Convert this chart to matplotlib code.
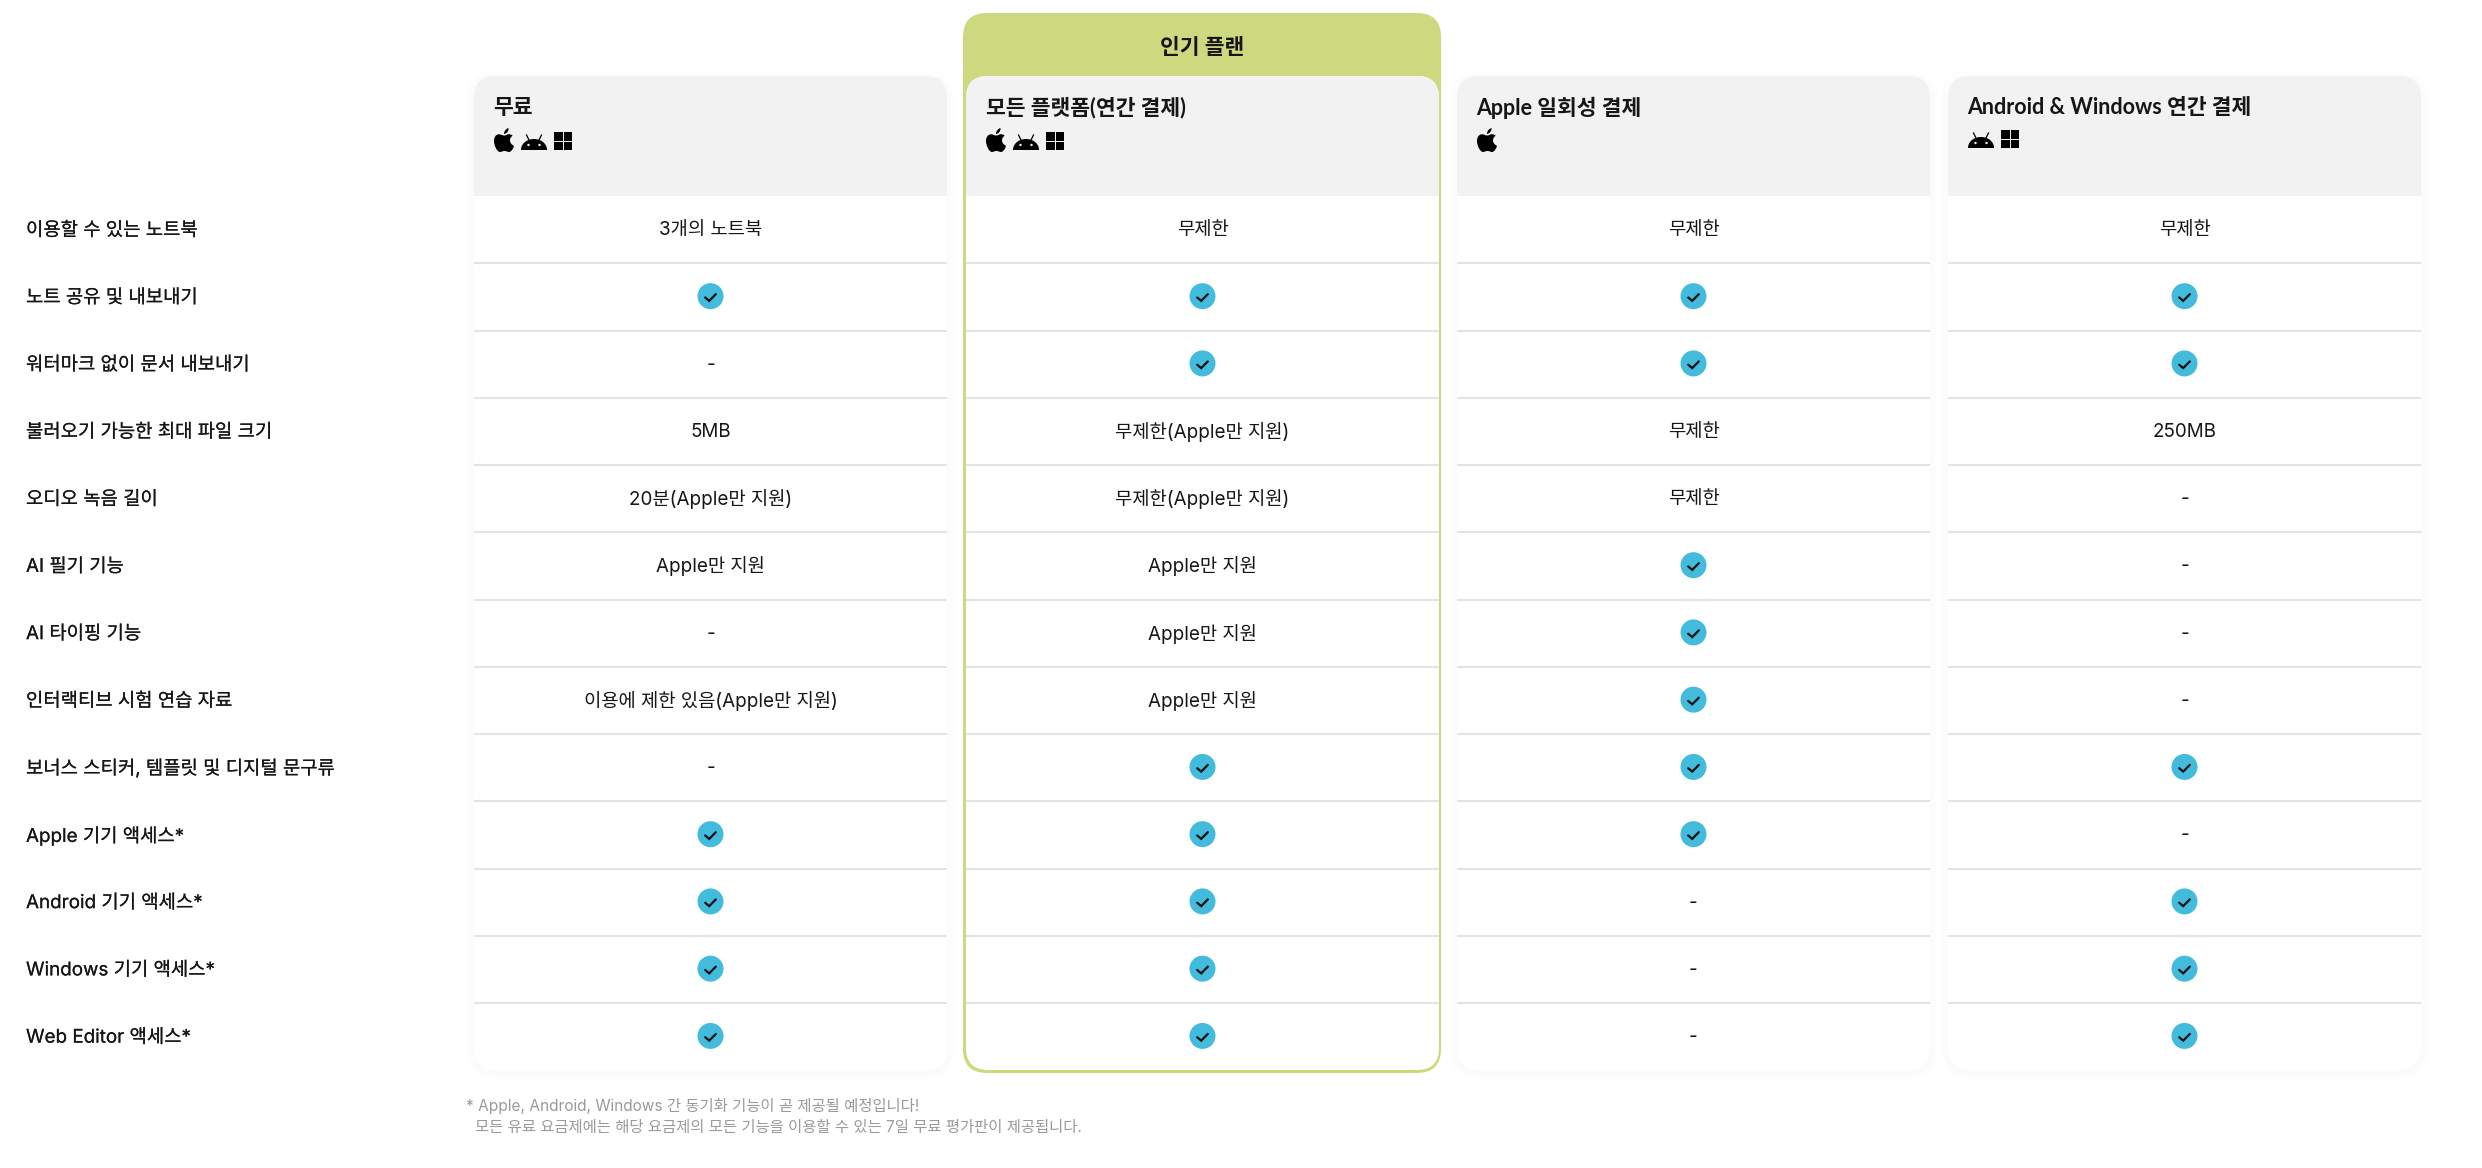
import matplotlib
matplotlib.use('Agg')
from matplotlib import pyplot as plt
from matplotlib import patheffects as pe
from matplotlib.patches import FancyBboxPatch, Rectangle, Circle, PathPatch
from matplotlib.path import Path

REGULAR = ['Inter', 'Noto Sans CJK KR', 'DejaVu Sans']
HEADING = ['Lato', 'Noto Sans CJK KR', 'DejaVu Sans']

CHECK = 'check'
DASH = '-'

features = ['이용할 수 있는 노트북', '노트 공유 및 내보내기', '워터마크 없이 문서 내보내기', '불러오기 가능한 최대 파일 크기',
            '오디오 녹음 길이', 'AI 필기 기능', 'AI 타이핑 기능', '인터랙티브 시험 연습 자료',
            '보너스 스티커, 템플릿 및 디지털 문구류', 'Apple 기기 액세스*', 'Android 기기 액세스*',
            'Windows 기기 액세스*', 'Web Editor 액세스*']

plans = ['무료', '모든 플랫폼(연간 결제)', 'Apple 일회성 결제', 'Android & Windows 연간 결제']
plan_icons = [['apple', 'android', 'windows'], ['apple', 'android', 'windows'], ['apple'], ['android', 'windows']]

free = ['3개의 노트북', CHECK, DASH, '5MB', '20분(Apple만 지원)', 'Apple만 지원', DASH,
        '이용에 제한 있음(Apple만 지원)', DASH, CHECK, CHECK, CHECK, CHECK]
all_platforms = ['무제한', CHECK, CHECK, '무제한(Apple만 지원)', '무제한(Apple만 지원)', 'Apple만 지원', 'Apple만 지원',
                 'Apple만 지원', CHECK, CHECK, CHECK, CHECK, CHECK]
apple_once = ['무제한', CHECK, CHECK, '무제한', '무제한', CHECK, CHECK, CHECK, CHECK, CHECK, DASH, DASH, DASH]
android_win = ['무제한', CHECK, CHECK, '250MB', DASH, DASH, DASH, DASH, CHECK, DASH, CHECK, CHECK, CHECK]
columns = [free, all_platforms, apple_once, android_win]

popular_title = '인기 플랜'
footnotes = ['* Apple, Android, Windows 간 동기화 기능이 곧 제공될 예정입니다!',
             '모든 유료 요금제에는 해당 요금제의 모든 기능을 이용할 수 있는 7일 무료 평가판이 제공됩니다.']

card_left = [474, 966, 1457, 1948]
card_w = 473
card_top = 76
head_bottom = 196
row_h = 67.25
card_bottom = 1070

GREEN = '#CDD97F'
BLUE = '#42BBDC'
INK = '#161616'
HEAD_BG = '#F2F2F2'

apple_body = [(10.5, 7.5), (8, 7.5), (6.5, 6), (4.5, 6.3), (1.5, 6.7), (0, 9.5), (0, 13), (0, 17.5), (3, 24), (6, 24),
              (7.5, 24), (8.5, 23), (10.5, 23), (12.5, 23), (13.5, 24), (15, 24), (17.5, 24), (19.5, 20), (20, 17.8),
              (17.5, 16.7), (16, 14.7), (16, 12.3), (16, 10.3), (17, 8.8), (18.7, 7.8), (17.3, 6.5), (15.7, 6),
              (14.5, 6.2), (13, 6.3), (12, 7.5), (10.5, 7.5)]
apple_leaf = [(10, 6), (10, 3), (12, 0.8), (14.5, 0), (14.8, 3), (12.8, 5.5), (10, 6)]
android_dome = [(0, 15), (0, 8.5), (6, 4), (13, 4), (20, 4), (26, 8.5), (26, 15)]


def curve(points, x, y):
    codes = [Path.MOVETO] + [Path.CURVE4] * (len(points) - 1)
    return Path([(x + a, y + b) for a, b in points], codes)


def draw_apple(ax, x, y):
    ax.add_patch(PathPatch(curve(apple_body, x, y), fc='black', ec='none', zorder=5))
    ax.add_patch(PathPatch(curve(apple_leaf, x, y), fc='black', ec='none', zorder=5))


def draw_android(ax, x, y):
    ax.add_patch(PathPatch(curve(android_dome, x, y), fc='black', ec='none', zorder=5))
    ax.plot([x + 5.5, x + 8.5], [y, y + 6], color='black', lw=0.9, zorder=5)
    ax.plot([x + 20.5, x + 17.5], [y, y + 6], color='black', lw=0.9, zorder=5)
    for ex in (7.5, 18.5):
        ax.add_patch(Circle((x + ex, y + 10), 1.2, fc=HEAD_BG, ec='none', zorder=6))


def draw_windows(ax, x, y):
    for dx in (0, 9.5):
        for dy in (0, 9.5):
            ax.add_patch(Rectangle((x + dx, y + dy), 8.5, 8.5, fc='black', ec='none', zorder=5))


def draw_check(ax, cx, cy):
    ax.add_patch(Circle((cx, cy), 13, fc=BLUE, ec='none', zorder=5))
    ax.plot([cx - 5.3, cx - 1.3, cx + 5.3], [cy + 1.3, cy + 4.7, cy - 2], color='#111111', lw=1.6,
            solid_capstyle='round', solid_joinstyle='miter', zorder=6)


def rounded(x0, y0, x1, y1, r, **kw):
    return FancyBboxPatch((x0, y0), x1 - x0, y1 - y0, boxstyle=f'round,pad=0,rounding_size={r}', **kw)


fig = plt.figure(figsize=(24.82, 11.68), dpi=100)
ax = fig.add_axes([0, 0, 1, 1])
ax.set_xlim(0, 2482)
ax.set_ylim(1168, 0)
ax.axis('off')

# green band behind the popular plan
ax.add_patch(rounded(963, 13, 1441, 1073, 24, fc=GREEN, ec='none', zorder=1))
ax.text(1202, 47, popular_title, family=HEADING, fontsize=15.5, fontweight='bold', color=INK, ha='center', va='center', zorder=7)

icon_adv = {'apple': 27, 'android': 33, 'windows': 18}
icon_top = {'apple': 128, 'android': 135, 'windows': 132}
icon_draw = {'apple': draw_apple, 'android': draw_android, 'windows': draw_windows}

for c, left in enumerate(card_left):
    right = left + card_w
    # soft shadow
    if c != 1:
        for grow in (8, 6, 4, 2):
            ax.add_patch(rounded(left - grow, card_top - grow + 2, right + grow, card_bottom + grow + 2, 22 + grow,
                                 fc='black', ec='none', alpha=0.005, zorder=0))
    ax.add_patch(rounded(left, card_top, right, card_bottom, 22, fc='white', ec='none', zorder=2))
    # header: rounded box whose lower part is covered by the white body
    ax.add_patch(rounded(left, card_top, right, head_bottom + 40, 22, fc=HEAD_BG, ec='none', zorder=2.1))
    ax.add_patch(Rectangle((left, head_bottom), card_w, 45, fc='white', ec='none', zorder=2.2))

    ax.text(left + 19.5, 108, plans[c], family=HEADING, fontsize=15.5, fontweight='bold', color=INK, ha='left', va='center', zorder=7)

    ix = left + 20
    shift = -2 if plan_icons[c][0] == 'android' else 0
    for name in plan_icons[c]:
        icon_draw[name](ax, ix, icon_top[name] + shift)
        ix += icon_adv[name]

    cx = left + card_w / 2
    for r, val in enumerate(columns[c]):
        cy = head_bottom + row_h * (r + 0.5)
        if r < len(features) - 1:
            ly = head_bottom + row_h * (r + 1)
            ax.plot([left, right], [ly, ly], color='#E4E4E4', lw=1.5, solid_capstyle='butt', zorder=3)
        if val == CHECK:
            draw_check(ax, cx, cy - 0.7)
        else:
            ax.text(cx, cy + 0.5, val, family=REGULAR, fontsize=13.55, color=INK, ha='center', va='center', zorder=7)

for r, name in enumerate(features):
    ax.text(26, head_bottom + row_h * (r + 0.5) + 1, name, family=REGULAR, fontsize=13.55, color=INK, ha='left', va='center',
            path_effects=[pe.withStroke(linewidth=0.1, foreground=INK)])

ax.text(466, 1105.5, footnotes[0], family=REGULAR, fontsize=11.1, color='#9A9A9A', ha='left', va='center')
ax.text(475, 1127.5, footnotes[1], family=REGULAR, fontsize=11.1, color='#9A9A9A', ha='left', va='center')

plt.savefig('out.png', dpi=100, facecolor='white')
plt.close()
